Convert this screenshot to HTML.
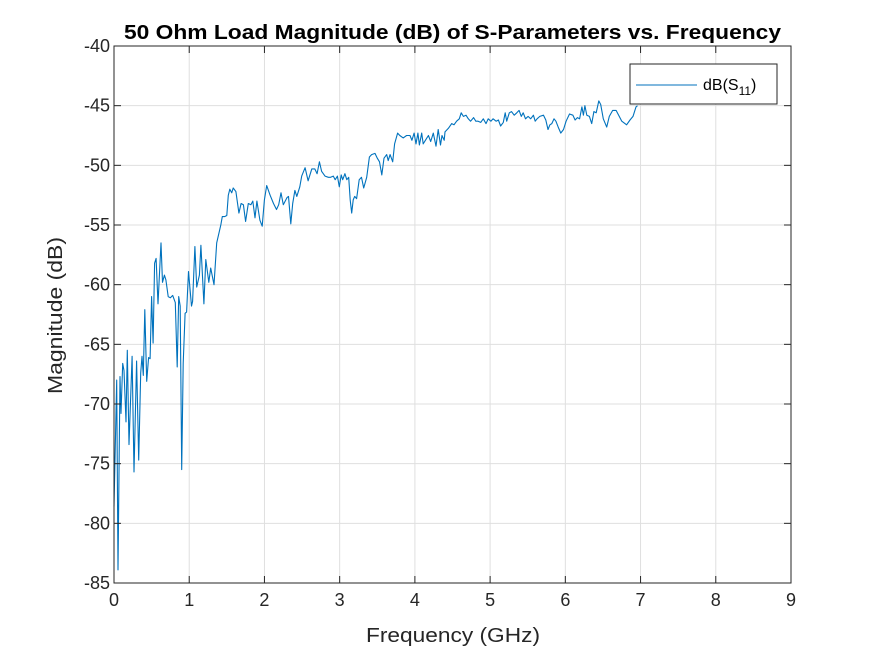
<!DOCTYPE html>
<html><head><meta charset="utf-8"><style>
body{margin:0;background:#fff;}
svg{display:block;font-family:"Liberation Sans",Arial,sans-serif;}
</style></head><body>
<svg id="chart" width="875" height="656">
<rect x="0" y="0" width="875" height="656" fill="#fff"/>
<rect x="114" y="46" width="677" height="537" fill="#fff"/>
<g id="grid"></g>
<g id="series"></g>
<g id="axes"></g>
<text x="124" y="39" font-size="20" font-weight="bold" fill="#000" textLength="657" lengthAdjust="spacingAndGlyphs">50 Ohm Load Magnitude (dB) of S-Parameters vs. Frequency</text>
<text x="366" y="642" font-size="20" fill="#262626" textLength="174" lengthAdjust="spacingAndGlyphs">Frequency (GHz)</text>
<text x="0" y="0" transform="translate(62,394) rotate(-90)" font-size="20" fill="#262626" textLength="157" lengthAdjust="spacingAndGlyphs">Magnitude (dB)</text>
<g>
<rect x="630" y="64" width="147" height="40" fill="#fff" stroke="#262626" stroke-width="1"/>
<line x1="636" y1="85" x2="697" y2="85" stroke="#0072BD" stroke-width="1"/>
<text x="703" y="90" font-size="16" fill="#000">dB(S<tspan font-size="12" dy="5">11</tspan><tspan dy="-5">)</tspan></text>
</g>
</svg>
<script>
const freqGHz=[0,0.036,0.053,0.08,0.093,0.115,0.133,0.16,0.177,0.2,0.24,0.266,0.3,0.328,0.355,0.372,0.39,0.41,0.435,0.46,0.48,0.5,0.52,0.54,0.56,0.585,0.625,0.645,0.67,0.69,0.72,0.75,0.78,0.815,0.84,0.86,0.88,0.9,0.92,0.945,0.965,0.99,1.03,1.045,1.075,1.1,1.135,1.155,1.195,1.22,1.26,1.285,1.33,1.365,1.42,1.44,1.47,1.5,1.52,1.54,1.565,1.585,1.62,1.66,1.69,1.72,1.75,1.785,1.82,1.845,1.875,1.9,1.94,1.97,2.0,2.03,2.075,2.12,2.16,2.19,2.22,2.25,2.3,2.32,2.35,2.375,2.405,2.43,2.47,2.495,2.54,2.58,2.63,2.67,2.7,2.73,2.76,2.805,2.85,2.88,2.915,2.94,2.97,2.995,3.02,3.04,3.07,3.095,3.12,3.14,3.16,3.18,3.2,3.225,3.26,3.29,3.32,3.36,3.395,3.425,3.47,3.5,3.53,3.56,3.59,3.625,3.645,3.67,3.705,3.73,3.77,3.8,3.845,3.89,3.935,3.96,3.99,4.015,4.04,4.06,4.09,4.11,4.14,4.18,4.21,4.245,4.28,4.31,4.34,4.36,4.39,4.4,4.445,4.49,4.52,4.555,4.59,4.615,4.645,4.68,4.71,4.74,4.78,4.81,4.84,4.875,4.91,4.945,4.975,5.01,5.04,5.08,5.11,5.14,5.175,5.2,5.22,5.255,5.285,5.32,5.355,5.385,5.415,5.44,5.47,5.505,5.54,5.575,5.6,5.625,5.66,5.71,5.74,5.77,5.795,5.82,5.85,5.875,5.905,5.94,5.975,6.01,6.055,6.1,6.13,6.16,6.19,6.22,6.24,6.26,6.285,6.32,6.35,6.38,6.41,6.445,6.47,6.505,6.55,6.585,6.63,6.675,6.7,6.75,6.815,6.86,6.9,6.94,6.96];
const s11dB=[-78.6,-68.0,-83.9,-67.7,-70.8,-66.6,-67.2,-71.5,-65.5,-73.4,-66,-75.7,-66.4,-74.7,-67.4,-66,-67.6,-62.1,-68.1,-66.1,-66.2,-61,-64.9,-58.2,-57.8,-61.6,-56.5,-59.8,-59.2,-59.6,-61,-61.1,-60.9,-61.5,-66.9,-61,-61.8,-75.5,-66.6,-62.4,-62.3,-58.9,-61.8,-61.4,-56.8,-60.2,-59.2,-56.7,-61.6,-57.9,-59.8,-58.6,-60,-56.5,-55,-54.3,-54.3,-54.2,-52.5,-52,-52.3,-51.9,-52.2,-54,-53.2,-53.3,-54.7,-53.2,-53.3,-53,-54.4,-53,-54.6,-55.1,-52.9,-51.7,-52.5,-53.2,-53.7,-53.3,-52.3,-53.3,-52.7,-52.6,-54.9,-53.2,-52.1,-52.6,-51.8,-50.9,-50.2,-51.3,-50.3,-50.3,-50.7,-49.7,-50.5,-50.9,-51,-51,-50.9,-51.2,-50.9,-51.8,-50.8,-51.2,-50.7,-51.2,-51,-52.9,-54,-52.9,-52.6,-52.8,-51.2,-51,-51.9,-51,-49.3,-49.1,-49,-49.4,-49.7,-50.8,-49.4,-49.1,-49.6,-49.1,-49.7,-48.2,-47.3,-47.5,-47.7,-47.5,-47.5,-47.9,-47.3,-48.2,-47.3,-48.3,-47.3,-48.2,-47.9,-47.5,-48,-47.3,-48.4,-47,-48.3,-47.5,-47.9,-47.2,-46.9,-46.5,-46.6,-46.3,-46.1,-45.6,-45.9,-45.8,-46.1,-46.3,-46,-46.3,-46.3,-46.4,-46.1,-46.5,-46.1,-46.3,-46.1,-46.3,-46.2,-46.7,-46.4,-45.6,-46.3,-45.6,-45.5,-45.8,-45.6,-45.4,-45.9,-45.6,-46.1,-45.9,-46.1,-45.8,-46.3,-46.1,-45.9,-45.8,-46.2,-47,-46.6,-46.5,-46.1,-46.3,-46.8,-47.3,-47,-46.3,-45.7,-45.8,-46.2,-46,-46.1,-45.1,-45.8,-45,-45.8,-45.9,-46.5,-45.5,-45.6,-44.6,-44.9,-46.1,-46.8,-45.9,-45.4,-45.4,-45.7,-46.3,-46.6,-46.2,-45.9,-45.1,-45.0];
const xTicks=[0,1,2,3,4,5,6,7,8,9];
const yTicks=[-40,-45,-50,-55,-60,-65,-70,-75,-80,-85];

const L=114,R=791,T=46,B=583,xMin=0,xMax=9,yMin=-85,yMax=-40;
const NS='http://www.w3.org/2000/svg';
function xs(v){return L+(v-xMin)/(xMax-xMin)*(R-L);}
function ys(v){return B-(v-yMin)/(yMax-yMin)*(B-T);}
function mk(tag,attrs,parent){const e=document.createElementNS(NS,tag);for(const k in attrs)e.setAttribute(k,attrs[k]);parent.appendChild(e);return e;}
const grid=document.getElementById('grid'),axes=document.getElementById('axes'),series=document.getElementById('series');
xTicks.forEach(t=>{
  const g=mk('line',{x1:xs(t),x2:xs(t),y1:T,y2:B,stroke:'#dfdfdf','stroke-width':1},grid);
  
  
  const tk=mk('line',{x1:xs(t),x2:xs(t),y1:B,y2:B-7,stroke:'#262626','stroke-width':1},axes);
  
  
  const tk2=mk('line',{x1:xs(t),x2:xs(t),y1:T,y2:T+7,stroke:'#262626','stroke-width':1},axes);
  
  
  const tx=mk('text',{x:xs(t),y:B+23,'text-anchor':'middle','font-size':18,fill:'#262626'},axes);
  tx.textContent=t;
  
  
});
yTicks.forEach(t=>{
  const g=mk('line',{x1:L,x2:R,y1:ys(t),y2:ys(t),stroke:'#dfdfdf','stroke-width':1},grid);
  
  
  const tk=mk('line',{x1:L,x2:L+7,y1:ys(t),y2:ys(t),stroke:'#262626','stroke-width':1},axes);
  
  
  const tk2=mk('line',{x1:R,x2:R-7,y1:ys(t),y2:ys(t),stroke:'#262626','stroke-width':1},axes);
  
  
  const tx=mk('text',{x:L-4,y:ys(t)+6,'text-anchor':'end','font-size':18,fill:'#262626'},axes);
  tx.textContent=t;
  
  
});
const box=mk('rect',{x:L,y:T,width:R-L,height:B-T,fill:'none',stroke:'#262626','stroke-width':1},axes);


const pts=freqGHz.map((f,i)=>xs(f).toFixed(1)+','+ys(s11dB[i]).toFixed(1)).join(' ');
const line=mk('polyline',{points:pts,fill:'none',stroke:'#0072BD','stroke-width':1.1,'stroke-linejoin':'round'},series);


</script>
</body></html>
